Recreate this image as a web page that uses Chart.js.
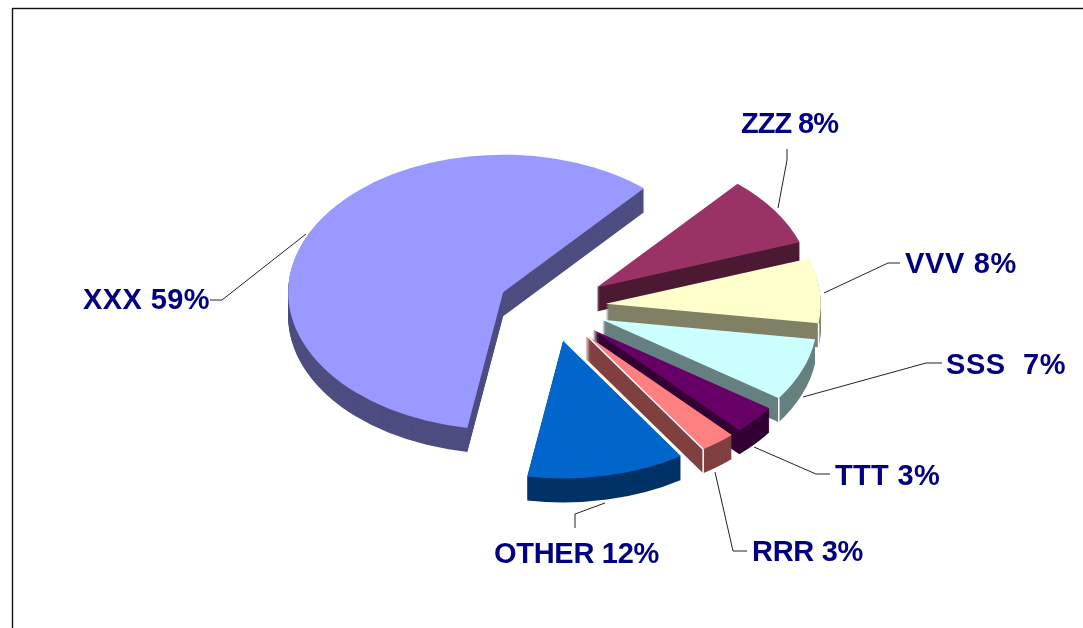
<!DOCTYPE html>
<html>
<head>
<meta charset="utf-8">
<title>Exploded pie</title>
<script src="https://cdn.jsdelivr.net/npm/chart.js@4"></script>
<style>
  html, body { margin: 0; padding: 0; background: #fff; overflow: hidden; }
  canvas { display: block; }
</style>
</head>
<body>
<canvas id="myChart" width="1083" height="628"></canvas>
<script>
// chart data, shares are estimated from slice angles and rounded for the labels
const categories = ['XXX', 'ZZZ', 'VVV', 'SSS ', 'TTT', 'RRR', 'OTHER'];
const shares = [58.7, 8.3, 7.6, 7.4, 3.4, 2.7, 11.9];

// colours, top face and side wall
const topColors = ['#9999ff', '#993366', '#ffffcc', '#ccffff', '#660066', '#ff8080', '#0066cc'];
const wallColors = ['#4d4d80', '#4d1a33', '#808066', '#668080', '#330033', '#804040', '#003366'];

// fake 3D settings
const tilt = 0.64;
const depth = 24;
const explode = 54;
const brightCorner = [false, false, true, true, false, true, false];
const brightEdge = [false, false, false, false, false, true, false];

// label anchors, widths and leader lines, same order as categories
const labelPos = [[83, 301], [741, 125], [905, 265], [946, 366], [835, 477], [752, 553], [494, 555]];
const labelWidth = [127, 97, 112, 120, 105, 111, 165];
const leaders = [
  [[210, 300], [222, 300], [306, 234]],
  [[787, 149], [787, 160], [778, 208]],
  [[900, 263], [888, 263], [824, 293]],
  [[942, 363], [926, 363], [803, 397]],
  [[830, 474], [816, 474], [754, 447]],
  [[747, 551], [733, 551], [715, 472]],
  [[575, 528], [575, 514], [605, 503]]
];

function placeSlice(ctx, arc, dy) {
  const mid = (arc.startAngle + arc.endAngle) / 2;
  ctx.translate(0, arc.y + dy);
  ctx.scale(1, tilt);
  ctx.translate(0, -arc.y);
  ctx.translate(Math.cos(mid) * explode, Math.sin(mid) * explode);
}

const pie3d = {
  id: 'pie3d',
  beforeDraw(chart) {
    const ctx = chart.ctx;
    ctx.save();
    ctx.strokeStyle = '#111';
    ctx.lineWidth = 1.4;
    ctx.strokeRect(12.5, 8.5, 1300, 800);
    ctx.restore();
  },
  // draws the arcs ourselves so each one gets tilted, pulled out and extruded
  beforeDatasetDraw(chart, args) {
    const ctx = chart.ctx;
    args.meta.data.forEach((arc, i) => {
      const opts = arc.options;
      arc.options = { ...opts, backgroundColor: wallColors[i] };
      for (let d = depth; d > 0; d--) {
        ctx.save();
        placeSlice(ctx, arc, d);
        arc.draw(ctx);
        ctx.restore();
      }
      arc.options = opts;
      ctx.save();
      placeSlice(ctx, arc, 0);
      arc.draw(ctx);
      ctx.restore();

      if (brightCorner[i]) {
        const mid = (arc.startAngle + arc.endAngle) / 2;
        const ox = arc.x + Math.cos(mid) * explode;
        const oy = arc.y + Math.sin(mid) * explode * tilt;
        const cx = ox + Math.cos(arc.endAngle) * arc.outerRadius;
        const cy = oy + Math.sin(arc.endAngle) * arc.outerRadius * tilt;
        ctx.save();
        ctx.strokeStyle = '#fff';
        ctx.lineWidth = 1.5;
        ctx.beginPath();
        ctx.moveTo(cx, cy);
        ctx.lineTo(cx, cy + depth);
        if (brightEdge[i]) {
          ctx.moveTo(ox, oy);
          ctx.lineTo(cx, cy);
        }
        ctx.stroke();
        ctx.restore();
      }
    });
    return false;
  },
  afterDraw(chart) {
    const ctx = chart.ctx;
    ctx.save();
    ctx.strokeStyle = '#222';
    ctx.lineWidth = 1;
    leaders.forEach(pts => {
      ctx.beginPath();
      pts.forEach((p, k) => k ? ctx.lineTo(p[0], p[1]) : ctx.moveTo(p[0], p[1]));
      ctx.stroke();
    });
    ctx.fillStyle = '#000080';
    ctx.font = 'bold 29px "Liberation Sans", Arial, sans-serif';
    ctx.textBaseline = 'middle';
    categories.forEach((name, i) => {
      const text = name + ' ' + Math.round(shares[i]) + '%';
      ctx.letterSpacing = '0px';
      const extra = (labelWidth[i] - ctx.measureText(text).width) / text.length;
      ctx.letterSpacing = extra.toFixed(2) + 'px';
      ctx.fillText(text, labelPos[i][0], labelPos[i][1]);
    });
    ctx.restore();
  }
};

new Chart(document.getElementById('myChart').getContext('2d'), {
  type: 'pie',
  data: {
    labels: categories,
    datasets: [{
      data: shares,
      backgroundColor: topColors,
      borderWidth: 0
    }]
  },
  options: {
    responsive: false,
    animation: false,
    events: [],
    rotation: 189.6,
    radius: 215,
    layout: { padding: { left: 21, bottom: 14 } },
    plugins: { legend: { display: false }, tooltip: { enabled: false } }
  },
  plugins: [pie3d]
});
</script>
</body>
</html>
